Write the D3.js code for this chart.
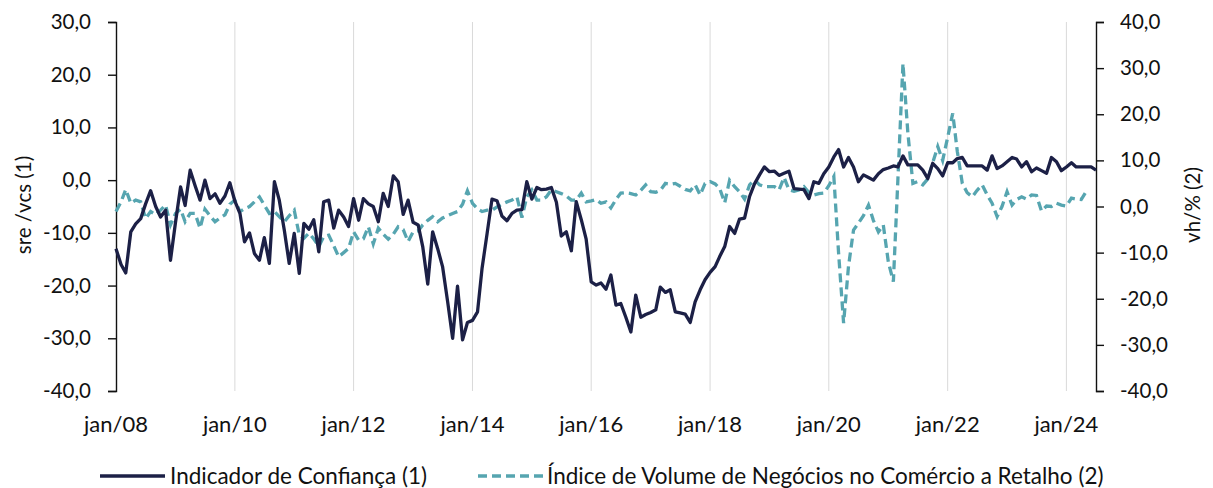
<!DOCTYPE html>
<html>
<head>
<meta charset="utf-8">
<script src="https://cdn.jsdelivr.net/npm/d3@7"></script>
<style>
  body { margin: 0; background: #fff; }
  svg text { font-family: Lato, "Open Sans", sans-serif; fill: #111; }
</style>
</head>
<body>
<svg id="chart" width="1213" height="488"></svg>
<script>
// first month of both series and the tick labels
const startMonth = new Date(2008, 0, 1);
const xTickLabels = ["jan/08", "jan/10", "jan/12", "jan/14", "jan/16", "jan/18", "jan/20", "jan/22", "jan/24"];
const leftTicks = [-40, -30, -20, -10, 0, 10, 20, 30];
const rightTicks = [-40, -30, -20, -10, 0, 10, 20, 30, 40];

// Indicador de Confiança (1), sre/vcs, jan/08 .. jul/24
const confianca = [
  -13.0, -16.0, -17.6, -9.8, -8.3, -7.3, -4.5, -2.0, -5.0, -7.0, -5.7, -15.2,
  -8.0, -1.3, -4.8, 1.9, -1.0, -3.8, 0.0, -3.5, -2.6, -4.4, -3.0, -0.5,
  -4.0, -6.3, -11.7, -10.0, -13.9, -15.2, -10.9, -15.8, -0.3, -3.8, -9.5, -15.8,
  -10.1, -17.7, -8.2, -9.3, -7.5, -13.6, -4.1, -3.8, -9.1, -5.7, -7.0, -8.8,
  -3.5, -7.6, -3.5, -4.5, -5.0, -7.9, -2.5, -5.0, 0.8, -0.3, -6.5, -3.8,
  -8.0, -8.5, -12.6, -19.7, -9.8, -13.0, -16.4, -23.0, -30.0, -20.1, -30.3, -27.0,
  -26.6, -25.0, -16.7, -10.1, -3.6, -3.9, -6.8, -7.7, -6.3, -5.7, -5.6, -0.3,
  -3.6, -1.4, -1.8, -1.7, -1.4, -4.2, -10.6, -9.8, -13.4, -4.1, -7.5, -11.2,
  -19.3, -19.9, -19.5, -20.7, -18.0, -23.7, -23.4, -26.0, -28.8, -21.8, -26.0, -25.5,
  -25.1, -24.6, -20.3, -21.3, -20.8, -25.0, -25.2, -25.4, -27.0, -23.1, -20.8, -18.9,
  -17.5, -16.4, -14.5, -12.6, -8.8, -10.1, -7.4, -7.2, -3.1, -0.7, 1.0, 2.5,
  1.6, 1.7, 0.9, 1.3, 1.7, -1.6, -1.7, -1.8, -3.5, -0.3, -0.6, 1.2,
  2.5, 4.4, 5.8, 2.5, 4.3, 2.5, -0.3, 1.0, 0.5, 0.0, 1.2, 2.0,
  2.3, 2.7, 2.5, 4.6, 2.9, 2.9, 2.9, 1.9, 0.3, 3.2, 2.2, 0.8,
  3.3, 3.3, 4.1, 4.3, 2.7, 2.7, 2.7, 2.7, 1.9, 4.6, 2.2, 2.7,
  3.5, 4.3, 4.0, 2.5, 3.5, 1.6, 2.3, 1.8, 1.3, 4.3, 3.5, 1.8,
  2.5, 3.3, 2.5, 2.5, 2.5, 2.5, 1.9
];

// Índice de Volume de Negócios no Comércio a Retalho (2), vh/%, jan/08 .. mai/24
const volume = [
  -1.1, 1.0, 3.7, 0.7, 1.4, 1.0, -2.6, -1.1, -1.8, -0.8, 0.3, -4.0,
  -1.5, -0.6, -3.3, -1.5, -1.5, -4.7, -0.6, -2.0, -3.3, -2.5, -1.8, 0.5,
  1.4, -1.1, -0.5, 0.0, 1.0, 2.1, 0.3, -1.5, -1.1, -2.2, -3.3, -2.0,
  -0.8, -6.2, -6.9, -5.8, -7.0, -8.7, -6.5, -6.2, -8.5, -10.9, -10.0, -9.1,
  -5.5, -7.3, -7.0, -4.4, -8.1, -4.7, -6.0, -7.1, -6.0, -4.4, -5.0, -7.6,
  -5.5, -5.3, -4.0, -3.0, -2.2, -3.3, -2.5, -2.0, -1.5, -1.1, 0.5, 3.4,
  0.7, -0.5, -1.1, -0.8, -0.8, -0.1, 0.5, 1.0, 1.4, 2.1, -2.4, 2.1,
  3.6, 1.4, 1.4, 2.1, 3.6, 3.2, 2.8, 2.3, 1.4, 1.4, 2.9, 1.0,
  1.2, 1.5, 0.7, 1.0, -0.3, 1.5, 2.9, 3.0, 2.8, 2.5, 3.5, 4.7,
  3.2, 3.1, 3.5, 5.0, 4.8, 5.0, 4.4, 3.7, 3.4, 4.7, 2.5, 5.0,
  5.4, 4.9, 3.9, 0.8, 5.7, 4.3, 3.2, 1.6, 4.7, 5.8, 4.7, 4.3,
  4.3, 4.3, 3.6, 6.3, 3.6, 3.3, 3.6, 4.3, 3.0, 2.5, 2.8, 2.9,
  4.5, 6.5, -10.0, -25.3, -13.0, -5.1, -3.6, -2.0, 0.3, -3.0, -5.5, -4.0,
  -12.0, -16.3, 6.0, 31.0, 16.0, 5.0, 5.4, 4.7, 6.0, 9.5, 13.0, 10.0,
  15.0, 20.2, 12.0, 5.0, 3.0, 2.1, 3.5, 4.7, 2.5, 0.7, -2.2, 0.0,
  3.2, 0.3, 1.5, 2.1, 1.6, 2.5, 2.4, -1.0, 0.1, 0.0, 0.7, 0.3,
  0.1, 1.8, 1.6, 1.5, 3.2
];

const months = confianca.map((d, i) => d3.timeMonth.offset(startMonth, i));
const tickDates = xTickLabels.map((d, i) => d3.timeMonth.offset(startMonth, i * 24));

const svg = d3.select('#chart');
const plotLeft = 116, plotRight = 1096, plotTop = 22, plotBottom = 391;

const x = d3.scaleTime().domain([months[0], months[months.length - 1]]).range([plotLeft, plotRight]);
const yL = d3.scaleLinear().domain([-40, 30]).range([plotBottom, plotTop]);
const yR = d3.scaleLinear().domain([-40, 40]).range([plotBottom, plotTop]);
const fmt = v => v.toFixed(1).replace('.', ',');

// vertical gridlines
svg.append('g')
    .selectAll('line')
    .data(tickDates.slice(1))
    .enter()
    .append('line')
    .attr('x1', d => x(d)).attr('x2', d => x(d))
    .attr('y1', plotTop).attr('y2', plotBottom)
    .attr('stroke', '#d9d9d9')
    .attr('stroke-width', 1);

// left axis
const gl = svg.append('g')
    .attr('transform', `translate(${plotLeft},0)`)
    .call(d3.axisLeft(yL).tickValues(leftTicks).tickFormat(fmt).tickSize(8).tickPadding(17));
// right axis
const gr = svg.append('g')
    .attr('transform', `translate(${plotRight},0)`)
    .call(d3.axisRight(yR).tickValues(rightTicks).tickFormat(fmt).tickSize(8).tickPadding(16));

[gl, gr].forEach(g => {
    g.select('.domain').attr('stroke', '#111').attr('stroke-width', 1.4);
    g.selectAll('.tick line').attr('stroke', '#111').attr('stroke-width', 1.4);
    g.selectAll('.tick text').attr('font-size', 20.5).attr('font-family', 'Lato').attr('fill', '#111');
});

// x labels
svg.append('g')
    .selectAll('text')
    .data(tickDates)
    .enter()
    .append('text')
    .attr('x', d => x(d))
    .attr('y', 432)
    .attr('text-anchor', 'middle')
    .attr('font-size', 22)
    .text((d, i) => xTickLabels[i]);

// axis titles
svg.append('text')
    .attr('transform', 'translate(31,205) rotate(-90)')
    .attr('text-anchor', 'middle')
    .attr('font-size', 20.5)
    .text('sre /vcs (1)');
svg.append('text')
    .attr('transform', 'translate(1200,205) rotate(-90)')
    .attr('text-anchor', 'middle')
    .attr('font-size', 20.5)
    .text('vh/% (2)');

// series
const lineL = d3.line()
    .defined(d => d != null)
    .x((d, i) => x(months[i]))
    .y(d => yL(d));
const lineR = d3.line()
    .defined(d => d != null)
    .x((d, i) => x(months[i]))
    .y(d => yR(d));

svg.append('path')
    .datum(volume)
    .attr('d', lineR)
    .attr('fill', 'none')
    .attr('stroke', '#56a5b0')
    .attr('stroke-width', 3.3)
    .attr('stroke-dasharray', '9,5');

svg.append('path')
    .datum(confianca)
    .attr('d', lineL)
    .attr('fill', 'none')
    .attr('stroke', '#1c2046')
    .attr('stroke-width', 3.3)
    .attr('stroke-linejoin', 'round');

// legend
const legend = svg.append('g');
legend.append('line')
    .attr('x1', 100).attr('x2', 165).attr('y1', 476).attr('y2', 476)
    .attr('stroke', '#1c2046').attr('stroke-width', 3.3);
legend.append('text')
    .attr('x', 170).attr('y', 484)
    .attr('font-size', 22.5)
    .text('Indicador de Confiança (1)');
legend.append('line')
    .attr('x1', 478).attr('x2', 543).attr('y1', 476).attr('y2', 476)
    .attr('stroke', '#56a5b0').attr('stroke-width', 3.3)
    .attr('stroke-dasharray', '9,5');
legend.append('text')
    .attr('x', 547).attr('y', 484)
    .attr('font-size', 22.5)
    .text('Índice de Volume de Negócios no Comércio a Retalho (2)');
</script>
</body>
</html>
